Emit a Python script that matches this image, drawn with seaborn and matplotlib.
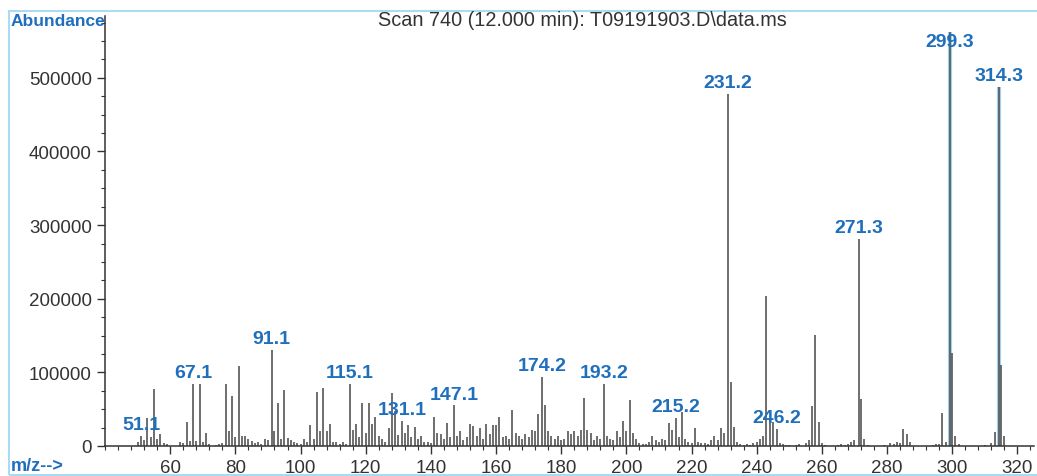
import numpy as np
import pandas as pd
import matplotlib.pyplot as plt
import seaborn as sns
from matplotlib.patches import Rectangle
from matplotlib.ticker import MultipleLocator

# m/z values and abundances
mz = [50, 51.1, 52, 53, 54, 55, 56, 57, 58, 59,
      63, 64, 65, 66, 67.1, 68, 69, 70, 71, 72,
      74, 75, 76, 77, 78, 79, 80, 81, 82, 83, 84, 85, 86, 87, 88, 89, 90,
      91.1, 92, 93, 94, 95, 96, 97, 98, 99, 100, 101, 102, 103, 104, 105,
      106, 107, 108, 109, 110, 111, 112, 113, 114,
      115.1, 116, 117, 118, 119, 120, 121, 122, 123, 124, 125, 126, 127, 128,
      129, 130, 131.1, 132, 133, 134, 135, 136, 137, 138, 139, 140, 141, 142,
      143, 144, 145, 146, 147.1, 148, 149, 150, 151, 152, 153, 154, 155, 156,
      157, 158, 159, 160, 161, 162, 163, 164, 165, 166, 167, 168, 169, 170,
      171, 172, 173, 174.2, 175, 176, 177, 178, 179, 180, 181, 182, 183, 184,
      185, 186, 187, 188, 189, 190, 191, 192, 193.2, 194, 195, 196, 197, 198,
      199, 200, 201, 202, 203, 204, 205, 206, 207, 208, 209, 210, 211, 212,
      213, 214, 215.2, 216, 217, 218, 219, 220, 221, 222, 223, 224, 225, 226,
      227, 228, 229, 230, 231.2, 232, 233, 234, 235, 236, 237, 238, 239, 240,
      241, 242, 243, 244, 245, 246.2, 247, 248, 249, 250, 252, 253, 255, 256,
      257, 258, 259, 260, 261, 265, 266, 267, 268, 269, 270, 271.3, 272, 273,
      274, 279, 281, 282, 283, 284, 285, 286, 287, 294, 295, 296, 297, 298,
      299.3, 300, 301, 302, 310, 312, 313, 314.3, 315, 316]
abundance = [5000, 14000, 8000, 38000, 12000, 78000, 10000, 16000, 4000, 3000,
             5000, 4000, 33000, 7000, 84000, 7000, 84000, 5000, 17000, 3000,
             2000, 3000, 4000, 84000, 20000, 68000, 12000, 108000, 13000, 14000,
             10000, 7000, 4000, 6000, 3000, 10000, 8000,
             131000, 20000, 58000, 9000, 76000, 11000, 8000, 5000, 4000, 3000,
             10000, 6000, 28000, 10000, 73000,
             20000, 79000, 20000, 30000, 6000, 5000, 3000, 6000, 3000,
             84000, 22000, 30000, 12000, 58000, 18000, 58000, 30000, 40000, 14000,
             10000, 6000, 25000, 72000,
             48000, 15000, 34000, 18000, 28000, 12000, 26000, 10000, 14000, 5000,
             6000, 4000, 40000, 18000,
             16000, 10000, 31000, 12000, 55000, 14000, 20000, 8000, 12000, 30000,
             27000, 14000, 24000, 10000,
             30000, 16000, 28000, 28000, 40000, 12000, 14000, 10000, 49000, 18000,
             14000, 10000, 16000, 12000,
             22000, 20000, 43000, 94000, 55000, 20000, 14000, 10000, 14000, 8000,
             10000, 20000, 16000, 20000,
             14000, 22000, 65000, 22000, 18000, 8000, 14000, 10000, 84000, 14000,
             10000, 8000, 20000, 12000,
             34000, 20000, 62000, 18000, 10000, 4000, 3000, 3000, 5000, 14000,
             8000, 6000, 10000, 8000,
             31000, 22000, 38000, 12000, 46000, 10000, 6000, 4000, 24000, 6000,
             4000, 4000, 3000, 8000,
             13000, 8000, 24000, 18000, 478000, 87000, 26000, 5000, 3000, 2000,
             3000, 2000, 4000, 6000,
             10000, 14000, 204000, 37000, 33000, 23000, 4000, 3000, 2000, 2000,
             2000, 3000, 4000, 8000,
             54000, 151000, 33000, 4000, 2000, 2000, 3000, 2000, 3000, 6000, 8000,
             281000, 64000, 10000,
             2000, 2000, 4000, 3000, 5000, 4000, 23000, 16000, 5000, 2000, 3000,
             3000, 45000, 6000,
             562000, 126000, 14000, 3000, 2000, 4000, 19000, 488000, 110000, 14000]

peak_labels = ["51.1", "67.1", "91.1", "115.1", "131.1", "147.1", "174.2",
               "193.2", "215.2", "231.2", "246.2", "271.3", "299.3", "314.3"]
highlighted = ["299.3", "314.3"]

df = pd.DataFrame({"mz": mz, "abundance": abundance})

sns.set_style("ticks")
plt.rcParams['font.family'] = ['Liberation Sans', 'DejaVu Sans']

label_blue = "#1f6fbd"
fig = plt.figure(figsize=(10.37, 4.77), dpi=100)
ax = fig.add_axes([0.1013, 0.0629, 0.8955, 0.9015])

# highlighted peaks get a light blue underlay
hl = df[df["mz"].isin([float(s) for s in highlighted])]
ax.vlines(hl["mz"], 0, hl["abundance"], color="#9fd0ec", linewidth=3.0, zorder=1)
ax.vlines(df["mz"], 0, df["abundance"], color="#555555", linewidth=1.2, zorder=2)

for lab in peak_labels:
    h = df.loc[np.isclose(df["mz"], float(lab)), "abundance"].iloc[0]
    ax.annotate(lab, xy=(float(lab), min(h, 534000)), xytext=(0, 2),
                textcoords="offset points", ha="center", va="bottom",
                fontsize=14, fontweight="bold", color=label_blue, zorder=3)

ax.set_xlim(40, 325)
ax.set_ylim(0, 584000)
ax.xaxis.set_major_locator(MultipleLocator(20))
ax.xaxis.set_minor_locator(MultipleLocator(4))
ax.yaxis.set_major_locator(MultipleLocator(100000))
ax.yaxis.set_minor_locator(MultipleLocator(25000))
ax.set_xticks(np.arange(60, 321, 20))
ax.tick_params(axis="both", which="major", labelsize=13.5, length=6, width=1,
               color="#333333", labelcolor="#333333")
ax.tick_params(axis="both", which="minor", length=3, width=0.8, color="#333333")
ax.set_xlabel("")
ax.set_ylabel("")
sns.despine(ax=ax)
for s in ["left", "bottom"]:
    ax.spines[s].set_color("#333333")
    ax.spines[s].set_linewidth(1.1)

fig.text(0.562, 0.957, r"Scan 740 (12.000 min): T09191903.D\data.ms",
         ha="center", va="center", fontsize=14.3, color="#333333")
fig.text(0.010, 0.954, "Abundance", ha="left", va="center", fontsize=12.5,
         fontweight="bold", color=label_blue)
fig.text(0.010, 0.021, "m/z-->", ha="left", va="center", fontsize=13,
         fontweight="bold", color=label_blue)

fig.patches.append(Rectangle((0.009, 0.002), 0.995, 0.973, transform=fig.transFigure,
                             fill=False, edgecolor="#a9dcf2", linewidth=1.5))

plt.savefig("out.png", dpi=100)
